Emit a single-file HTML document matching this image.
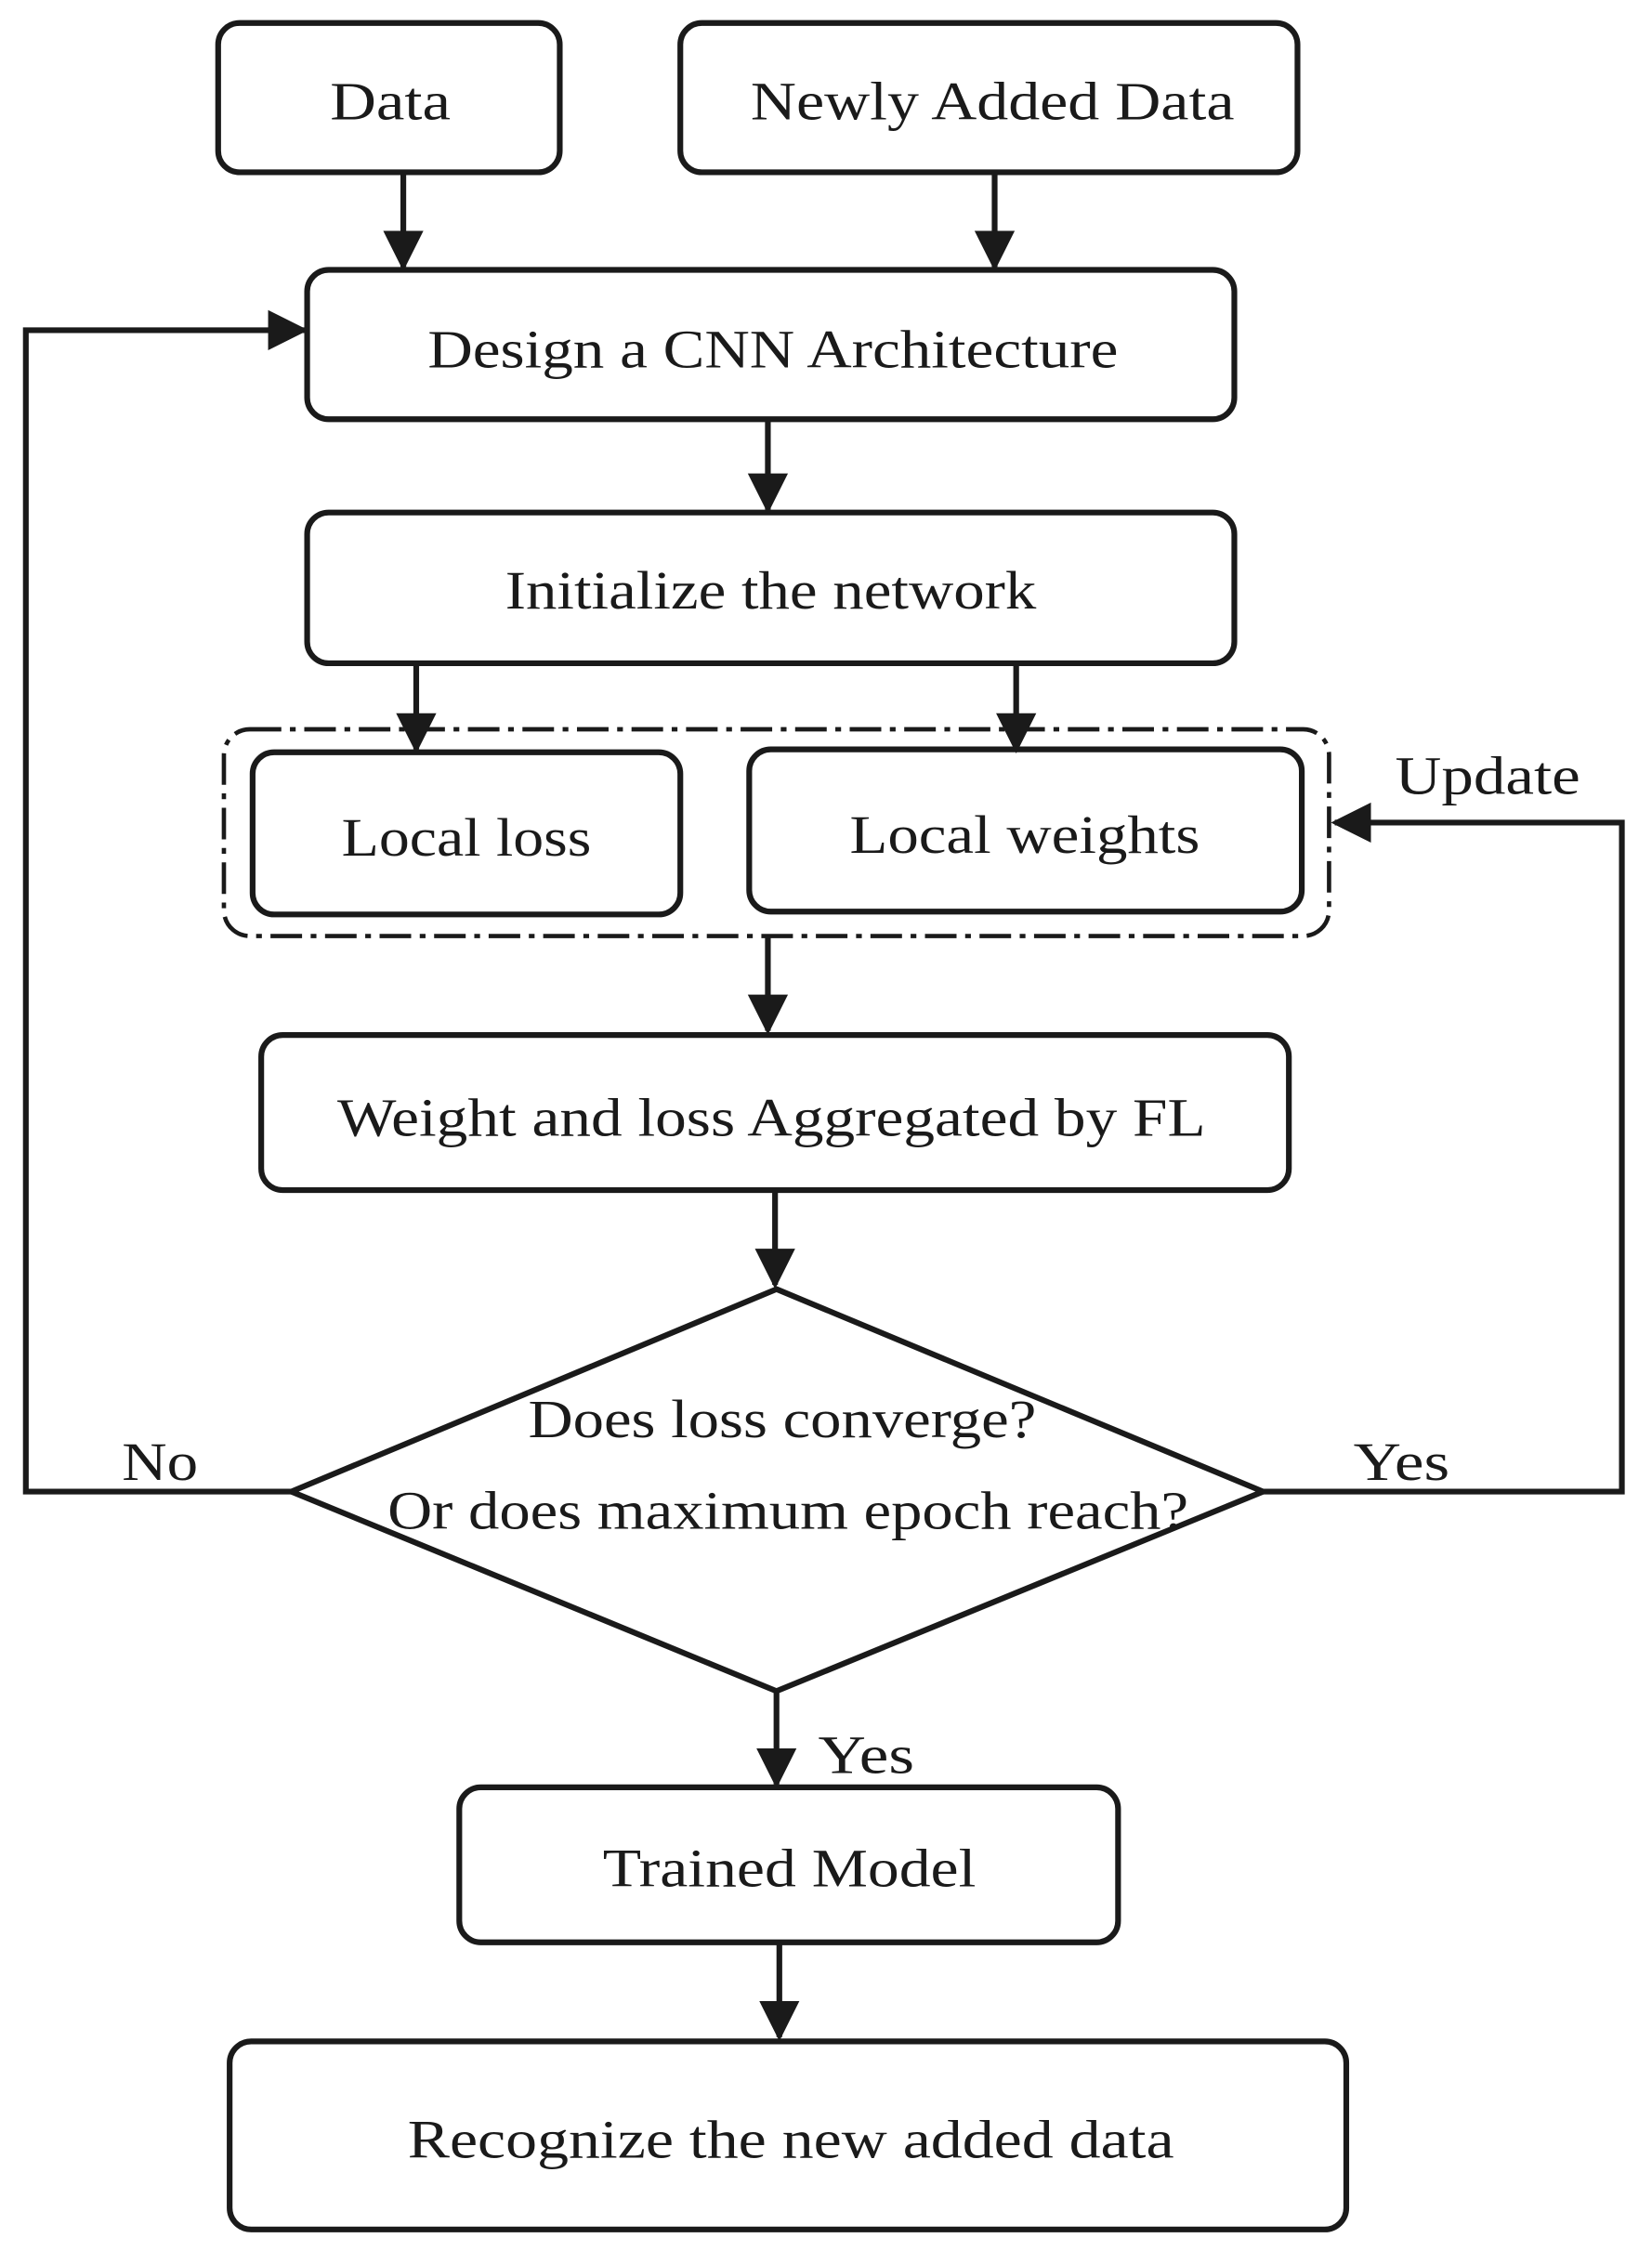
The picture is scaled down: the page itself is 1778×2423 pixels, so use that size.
<!DOCTYPE html>
<html><head><meta charset="utf-8"><style>html,body{margin:0;padding:0;background:#fff}svg{display:block}</style></head><body>
<svg width="1778" height="2423" viewBox="0 0 1151 1568" preserveAspectRatio="none" xmlns="http://www.w3.org/2000/svg">
<defs><marker id="b" viewBox="0 0 10 10" refX="9" refY="5" markerWidth="7" markerHeight="8" orient="auto"><path d="M0,0L10,5L0,10z" fill="#1a1a1a"/></marker></defs>
<g fill="none" stroke="#1a1a1a" stroke-width="4">
<rect x="152" y="16" width="238" height="104" rx="15"/>
<rect x="474" y="16" width="430" height="104" rx="15"/>
<rect x="214" y="188" width="646" height="104" rx="15"/>
<rect x="214" y="357" width="646" height="105" rx="15"/>
<rect x="156" y="508" width="770" height="144" rx="18" stroke-dasharray="22,6,4,6" stroke-width="3"/>
<rect x="176" y="524" width="298" height="113" rx="15"/>
<rect x="522" y="522" width="385" height="113" rx="15"/>
<rect x="182" y="721" width="716" height="108" rx="15"/>
<polygon points="541,898 880,1039 541,1178 203,1039"/>
<rect x="320" y="1245" width="459" height="108" rx="15"/>
<rect x="160" y="1422" width="778" height="131" rx="15"/>
<g marker-end="url(#b)">
<line x1="281" y1="120" x2="281" y2="186"/>
<line x1="693" y1="120" x2="693" y2="186"/>
<line x1="535" y1="292" x2="535" y2="355"/>
<line x1="290" y1="462" x2="290" y2="522"/>
<line x1="708" y1="462" x2="708" y2="522"/>
<line x1="535" y1="652" x2="535" y2="718"/>
<line x1="540" y1="829" x2="540" y2="895"/>
<line x1="541" y1="1178" x2="541" y2="1243"/>
<line x1="543" y1="1353" x2="543" y2="1419"/>
<polyline points="203,1039 18,1039 18,230 212,230"/>
<polyline points="880,1039 1130,1039 1130,573 930,573"/>
</g></g>
<g font-family="Liberation Serif, serif" font-size="38" fill="#1a1a1a">
<text x="230" y="83" textLength="84" lengthAdjust="spacingAndGlyphs">Data</text>
<text x="523" y="83" textLength="337" lengthAdjust="spacingAndGlyphs">Newly Added Data</text>
<text x="298" y="256" textLength="481" lengthAdjust="spacingAndGlyphs">Design a CNN Architecture</text>
<text x="352" y="424" textLength="370" lengthAdjust="spacingAndGlyphs">Initialize the network</text>
<text x="238" y="596" textLength="174" lengthAdjust="spacingAndGlyphs">Local loss</text>
<text x="592" y="594" textLength="244" lengthAdjust="spacingAndGlyphs">Local weights</text>
<text x="235" y="791" textLength="605" lengthAdjust="spacingAndGlyphs">Weight and loss Aggregated by FL</text>
<text x="368" y="1001" textLength="354" lengthAdjust="spacingAndGlyphs">Does loss converge?</text>
<text x="270" y="1065" textLength="558" lengthAdjust="spacingAndGlyphs">Or does maximum epoch reach?</text>
<text x="85" y="1031" textLength="53" lengthAdjust="spacingAndGlyphs">No</text>
<text x="943" y="1031" textLength="67" lengthAdjust="spacingAndGlyphs">Yes</text>
<text x="972" y="553" textLength="129" lengthAdjust="spacingAndGlyphs">Update</text>
<text x="570" y="1235" textLength="67" lengthAdjust="spacingAndGlyphs">Yes</text>
<text x="420" y="1314" textLength="260" lengthAdjust="spacingAndGlyphs">Trained Model</text>
<text x="284" y="1503" textLength="534" lengthAdjust="spacingAndGlyphs">Recognize the new added data</text>
</g></svg>
</body></html>
